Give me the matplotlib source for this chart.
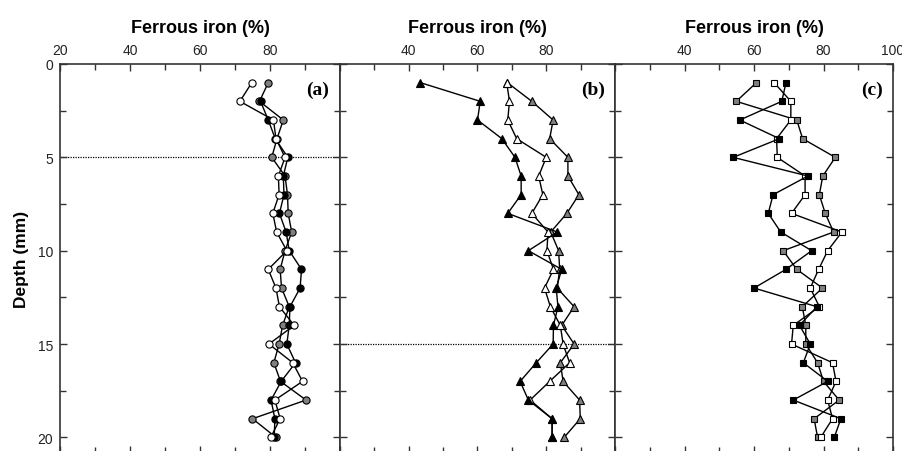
import matplotlib
matplotlib.use("Agg")
import matplotlib.pyplot as plt
from matplotlib.ticker import MultipleLocator, FixedLocator

plt.rcParams['font.family'] = ['Liberation Sans', 'DejaVu Sans']

depth = list(range(1, 21))

# Panel (a) - circles
a_white = [74.8, 71.4, 81.0, 81.7, 84.3, 82.4, 82.6, 80.8, 81.9, 84.8,
           79.5, 81.7, 82.7, 86.9, 79.7, 86.5, 89.3, 81.4, 82.9, 80.2]
a_grey = [79.5, 77.0, 83.8, 82.0, 80.5, 84.3, 85.0, 85.2, 86.2, 84.3,
          82.9, 83.3, 85.5, 83.6, 82.6, 81.1, 83.0, 90.3, 75.0, 81.7]
a_black_depth = list(range(2, 21))
a_black = [77.3, 79.5, 81.5, 85.1, 83.8, 84.0, 82.7, 84.6, 85.5,
           89.0, 88.6, 85.7, 85.5, 84.8, 87.3, 83.2, 80.3, 81.4, 81.2]

# Panel (b) - triangles
b_black = [43.4, 60.8, 60.0, 67.1, 70.9, 72.7, 72.7, 68.8, 83.2, 74.8,
           84.5, 82.9, 83.4, 82.1, 82.0, 77.1, 72.4, 74.8, 81.7, 81.7]
b_white = [68.5, 69.3, 68.8, 71.4, 80.0, 77.8, 79.0, 75.8, 80.5, 80.2,
           82.1, 79.5, 81.2, 84.1, 84.9, 86.8, 81.0, 75.3, 81.7, 81.7]
b_grey = [68.7, 75.8, 82.0, 81.0, 86.3, 86.3, 89.5, 86.0, 81.3, 83.6,
          83.9, 83.2, 88.1, 84.5, 88.1, 84.1, 84.9, 89.7, 89.9, 85.2]

# Panel (c) - squares
c_black = [69.2, 68.0, 55.9, 67.3, 54.0, 75.5, 65.5, 64.1, 67.7, 76.6,
           69.2, 60.0, 78.1, 73.1, 76.2, 74.2, 81.2, 71.3, 85.0, 83.1]
c_white = [65.8, 70.6, 70.6, 66.5, 66.7, 74.7, 74.7, 70.8, 85.3, 81.2,
           78.6, 76.2, 78.8, 71.3, 70.8, 82.6, 83.6, 81.2, 82.6, 79.2]
c_grey = [60.7, 54.9, 72.3, 74.0, 83.4, 79.8, 78.8, 80.5, 82.9, 68.4,
          72.3, 79.7, 73.9, 74.9, 74.9, 78.3, 80.0, 84.5, 77.3, 78.3]

xlabel = "Ferrous iron (%)"
ylabel = "Depth (mm)"
panel_labels = ["(a)", "(b)", "(c)"]
top_ticklabels = [[20, 40, 60, 80], [40, 60, 80], [40, 60, 80, 100]]
ref_lines = [5, 15, None]

W, H = 903, 452
fig = plt.figure(figsize=(W / 100, H / 100), dpi=100)

lefts = [60, 340, 615]
rights = [340, 615, 893]
top_px = 65
bot_px = 454
axes = []
for l, r in zip(lefts, rights):
    ax = fig.add_axes([l / W, 1 - bot_px / H, (r - l) / W, (bot_px - top_px) / H])
    axes.append(ax)

depth_max = (bot_px - top_px) / 18.67

GREY = '#7f7f7f'

def style(ax, i):
    ax.set_xlim(20, 100)
    ax.set_ylim(depth_max, 0)
    ax.xaxis.set_ticks_position('both')
    ax.xaxis.set_label_position('top')
    ax.yaxis.set_ticks_position('both')
    ax.xaxis.set_major_locator(FixedLocator([20, 40, 60, 80, 100]))
    ax.xaxis.set_minor_locator(MultipleLocator(10))
    ax.yaxis.set_major_locator(FixedLocator([0, 5, 10, 15, 20]))
    ax.yaxis.set_minor_locator(MultipleLocator(2.5))
    ax.tick_params(which='both', direction='in', top=True, bottom=True,
                   left=True, right=True, labeltop=True, labelbottom=False,
                   labelsize=10, width=1.0, color='#333333', labelcolor='#222222')
    ax.tick_params(which='major', length=5, pad=5)
    ax.tick_params(which='minor', length=4)
    ax.set_xticklabels([str(v) if v in top_ticklabels[i] else '' for v in [20, 40, 60, 80, 100]])
    if i == 0:
        ax.set_yticklabels(['0', '5', '10', '15', '20'])
        ax.set_ylabel(ylabel, fontsize=12.5, fontweight='bold', labelpad=6)
    else:
        ax.tick_params(labelleft=False)
    ax.set_xlabel(xlabel, fontsize=13, fontweight='bold', labelpad=8)
    for s in ax.spines.values():
        s.set_linewidth(1.2)
        s.set_color('#333333')
    if ref_lines[i] is not None:
        ax.axhline(ref_lines[i], color='black', linestyle=(0, (1, 1)), lw=0.9, zorder=1)
    ax.text(97, 1.35, panel_labels[i], ha='right', va='center', fontsize=14,
            fontweight='bold', family='Liberation Serif')

for i, ax in enumerate(axes):
    style(ax, i)

ms = 5.2
common = dict(color='black', lw=1.0, markeredgecolor='black', markeredgewidth=0.8)

ax = axes[0]
ax.plot(a_grey, depth, marker='o', ms=ms, markerfacecolor=GREY, **common)
ax.plot(a_black, a_black_depth, marker='o', ms=ms, markerfacecolor='black', **common)
ax.plot(a_white, depth, marker='o', ms=ms, markerfacecolor='white', **common)

ax = axes[1]
ax.plot(b_grey, depth, marker='^', ms=ms + 0.5, markerfacecolor=GREY, **common)
ax.plot(b_white, depth, marker='^', ms=ms + 0.5, markerfacecolor='white', **common)
ax.plot(b_black, depth, marker='^', ms=ms + 0.5, markerfacecolor='black', **common)

ax = axes[2]
ax.plot(c_grey, depth, marker='s', ms=ms - 0.5, markerfacecolor=GREY, **common)
ax.plot(c_white, depth, marker='s', ms=ms - 0.5, markerfacecolor='white', **common)
ax.plot(c_black, depth, marker='s', ms=ms - 0.5, markerfacecolor='black', **common)

fig.savefig('out.png', dpi=100)
